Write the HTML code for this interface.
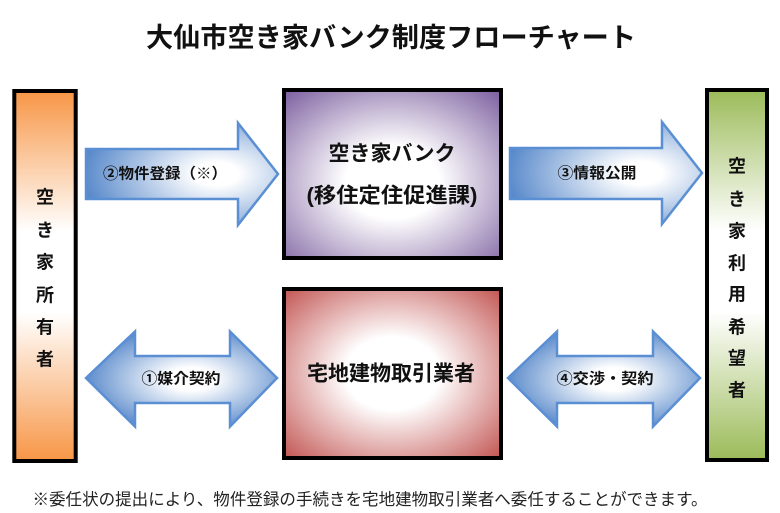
<!DOCTYPE html>
<html><head><meta charset="utf-8">
<style>
html,body{margin:0;padding:0;background:#fff;}
svg{display:block;}
text{font-family:"Liberation Sans","Noto Sans CJK JP",sans-serif;fill:#111;}
.b{font-weight:700;}
</style></head>
<body>
<svg width="780" height="513" viewBox="0 0 780 513" xmlns="http://www.w3.org/2000/svg">
<defs>
<linearGradient id="org" x1="0" y1="0" x2="0" y2="1">
<stop offset="0" stop-color="#f79646"/>
<stop offset="0.38" stop-color="#ffffff"/>
<stop offset="0.6" stop-color="#ffffff"/>
<stop offset="1" stop-color="#f79646"/>
</linearGradient>
<linearGradient id="grn" x1="0" y1="0" x2="0" y2="1">
<stop offset="0" stop-color="#9bbb59"/>
<stop offset="0.38" stop-color="#ffffff"/>
<stop offset="0.6" stop-color="#ffffff"/>
<stop offset="1" stop-color="#9bbb59"/>
</linearGradient>
<radialGradient id="pur" cx="0.5" cy="0.55" r="0.72">
<stop offset="0" stop-color="#ffffff"/>
<stop offset="0.3" stop-color="#ffffff"/>
<stop offset="1" stop-color="#8064a2"/>
</radialGradient>
<radialGradient id="red" cx="0.5" cy="0.5" r="0.72">
<stop offset="0" stop-color="#ffffff"/>
<stop offset="0.3" stop-color="#ffffff"/>
<stop offset="1" stop-color="#c0504d"/>
</radialGradient>
<radialGradient id="blu1" cx="0.68" cy="0.5" r="0.75">
<stop offset="0" stop-color="#ffffff"/>
<stop offset="0.15" stop-color="#ffffff"/>
<stop offset="1" stop-color="#4a7fc6"/>
</radialGradient>
<radialGradient id="blu2" cx="0.55" cy="0.5" r="0.6">
<stop offset="0" stop-color="#ffffff"/>
<stop offset="0.2" stop-color="#ffffff"/>
<stop offset="1" stop-color="#4a7fc6"/>
</radialGradient>
</defs>

<text class="b" x="391" y="47" font-size="27" text-anchor="middle" textLength="490" lengthAdjust="spacingAndGlyphs">大仙市空き家バンク制度フローチャート</text>

<!-- left box -->
<rect x="14.3" y="91" width="61.4" height="370" fill="url(#org)" stroke="#000" stroke-width="4"/>
<g font-size="18" text-anchor="middle">
<text class="b" x="45" y="203.5">空</text>
<text class="b" x="45" y="236.5">き</text>
<text class="b" x="45" y="268.5">家</text>
<text class="b" x="45" y="301.5">所</text>
<text class="b" x="45" y="333.5">有</text>
<text class="b" x="45" y="365.5">者</text>
</g>

<!-- right box -->
<rect x="707" y="90" width="60" height="370" fill="url(#grn)" stroke="#000" stroke-width="4"/>
<g font-size="18" text-anchor="middle">
<text class="b" x="737" y="172.5">空</text>
<text class="b" x="737" y="205.5">き</text>
<text class="b" x="737" y="237.5">家</text>
<text class="b" x="737" y="269.5">利</text>
<text class="b" x="737" y="300.5">用</text>
<text class="b" x="737" y="333.5">希</text>
<text class="b" x="737" y="364.5">望</text>
<text class="b" x="737" y="396.5">者</text>
</g>

<!-- purple box -->
<rect x="284" y="90" width="217" height="168" fill="url(#pur)" stroke="#000" stroke-width="4"/>
<text class="b" x="392" y="160.5" font-size="21" text-anchor="middle">空き家バンク</text>
<text class="b" x="392" y="202.5" font-size="21" text-anchor="middle" textLength="171" lengthAdjust="spacingAndGlyphs">(移住定住促進課)</text>

<!-- red box -->
<rect x="284" y="289" width="217" height="169" fill="url(#red)" stroke="#000" stroke-width="4"/>
<text class="b" x="391" y="380.5" font-size="21" text-anchor="middle" textLength="168" lengthAdjust="spacingAndGlyphs">宅地建物取引業者</text>

<!-- arrows -->
<polygon points="86,149 238,149 238,123 278,174 238,225 238,199 86,199" fill="url(#blu1)" stroke="#5b8fd4" stroke-width="2.5" stroke-linejoin="miter"/>
<text class="b" x="165" y="178.5" font-size="15" text-anchor="middle" textLength="124" lengthAdjust="spacingAndGlyphs">②物件登録（※）</text>

<polygon points="510,148 662,148 662,122 702,173 662,224 662,199 510,199" fill="url(#blu1)" stroke="#5b8fd4" stroke-width="2.5"/>
<text class="b" x="597" y="178" font-size="15" text-anchor="middle" textLength="79" lengthAdjust="spacingAndGlyphs">③情報公開</text>

<polygon points="86,378 135,331.5 135,356 230,356 230,331.5 277,378 230,426.5 230,403 135,403 135,426.5" fill="url(#blu2)" stroke="#5b8fd4" stroke-width="2.5"/>
<text class="b" x="181" y="383.5" font-size="15" text-anchor="middle" textLength="79" lengthAdjust="spacingAndGlyphs">①媒介契約</text>

<polygon points="508,378 557,331.5 557,356 653,356 653,331.5 700,378 653,426.5 653,403 557,403 557,426.5" fill="url(#blu2)" stroke="#5b8fd4" stroke-width="2.5"/>
<text class="b" x="605" y="383.5" font-size="15" text-anchor="middle" textLength="97" lengthAdjust="spacingAndGlyphs">④交渉・契約</text>

<!-- footnote -->
<text x="370" y="505" font-size="16.5" text-anchor="middle" textLength="675" lengthAdjust="spacingAndGlyphs" style="fill:#222">※委任状の提出により、物件登録の手続きを宅地建物取引業者へ委任することができます。</text>
</svg>
</body></html>
